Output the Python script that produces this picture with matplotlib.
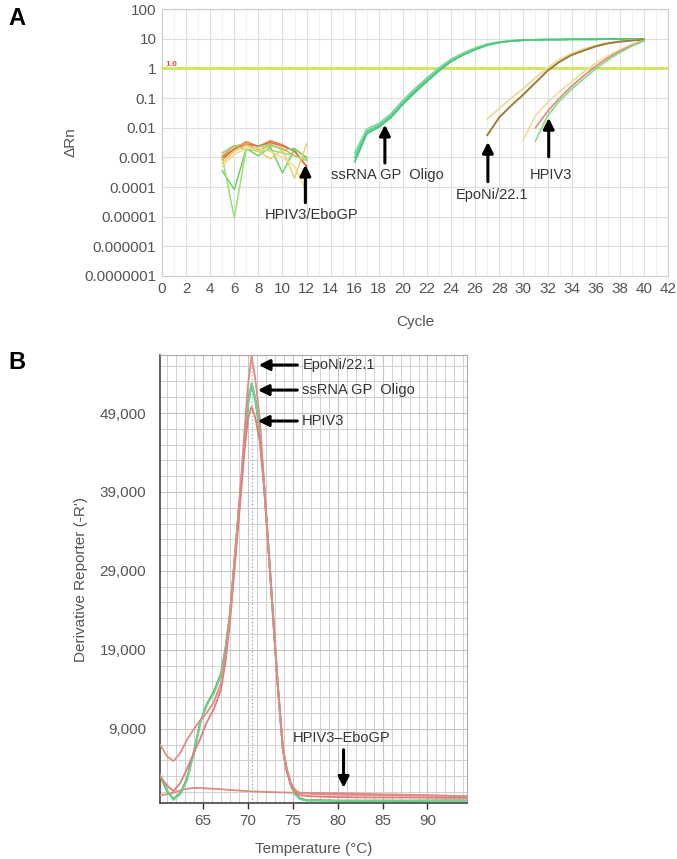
import matplotlib
matplotlib.use("Agg")
import matplotlib.pyplot as plt
import numpy as np

plt.rcParams['font.family'] = ['Liberation Sans', 'DejaVu Sans']

# ---------------- Panel A data (amplification, log10 of dRn) ----------------
noise_cycles = [5, 6, 7, 8, 9, 10, 11, 12]
noise_a = [-3.08, -2.72, -2.47, -2.64, -2.44, -2.58, -2.80, -3.31]
noise_b = [-3.00, -2.72, -2.55, -2.62, -2.50, -2.62, -2.78, -3.30]
noise_c = [-2.95, -2.62, -2.55, -2.75, -2.60, -2.70, -2.95, -3.10]
noise_d = [-2.85, -2.60, -2.75, -2.65, -2.55, -2.75, -2.70, -3.05]
noise_e = [-3.45, -4.09, -2.70, -2.95, -2.65, -3.53, -2.72, -3.00]
noise_f = [-3.00, -5.04, -2.70, -2.80, -2.75, -2.85, -2.95, -3.10]
noise_g = [-3.20, -2.80, -2.60, -2.80, -3.05, -2.75, -3.70, -2.55]
noise_h = [-3.30, -2.90, -2.70, -2.70, -2.80, -3.00, -3.30, -4.15]

ss_cycles = list(range(16, 41))
ss_rep1 = [-3.00, -2.13, -1.92, -1.60, -1.15, -0.75, -0.38, -0.03, 0.27, 0.48, 0.66, 0.80,
           0.88, 0.93, 0.95, 0.96, 0.97, 0.97, 0.98, 0.98, 0.98, 0.99, 0.99, 0.99, 0.99]
ss_rep2 = [-2.85, -2.05, -1.86, -1.53, -1.08, -0.68, -0.32, 0.02, 0.31, 0.52, 0.69, 0.82,
           0.89, 0.93, 0.95, 0.96, 0.97, 0.97, 0.98, 0.98, 0.98, 0.99, 0.99, 0.99, 0.99]
ss_rep3 = [-3.15, -2.20, -1.98, -1.66, -1.21, -0.81, -0.44, -0.08, 0.23, 0.45, 0.63, 0.78,
           0.87, 0.92, 0.95, 0.96, 0.97, 0.97, 0.98, 0.98, 0.98, 0.99, 0.99, 0.99, 0.99]

epo_cycles = list(range(27, 41))
epo_brown = [-2.25, -1.65, -1.25, -0.88, -0.48, -0.08, 0.22, 0.45, 0.60, 0.74, 0.84, 0.90, 0.94, 0.96]
epo_yellow = [-1.70, -1.35, -1.00, -0.68, -0.32, 0.02, 0.30, 0.50, 0.65, 0.77, 0.86, 0.91, 0.95, 0.96]

hpiv_y_cycles = list(range(30, 41))
hpiv_yellow = [-2.40, -1.60, -1.15, -0.78, -0.45, -0.12, 0.17, 0.42, 0.62, 0.80, 0.94]
hpiv_cycles = list(range(31, 41))
hpiv_pink = [-2.00, -1.45, -1.00, -0.60, -0.25, 0.07, 0.35, 0.58, 0.78, 0.93]
hpiv_green = [-2.45, -1.60, -1.10, -0.70, -0.35, -0.02, 0.28, 0.53, 0.75, 0.92]

threshold = 1.0
a_xticks = list(range(0, 43, 2))
a_yticks = [100, 10, 1, 0.1, 0.01, 0.001, 0.0001, 0.00001, 0.000001, 0.0000001]
a_yticklabels = ['100', '10', '1', '0.1', '0.01', '0.001', '0.0001', '0.00001', '0.000001', '0.0000001']

# ---------------- Panel B data (melt curves) ----------------
temps = [60.2, 61, 61.7, 62.5, 63.2, 64, 64.7, 65.4, 66.2, 67, 67.5, 68, 68.6, 69.2, 69.6,
         70.0, 70.4, 70.8, 71.3, 71.8, 72.3, 72.8, 73.3, 73.6, 73.9, 74.3, 74.8, 75.3, 75.8,
         76.5, 78, 80, 84, 88, 92, 94.4]
eponi_melt = [7000, 5500, 4900, 6000, 7600, 9000, 10100, 11000, 12400, 14800, 18500, 23200,
              31700, 40100, 46500, 52500, 56200, 53500, 48500, 40100, 31700, 23300, 14800,
              10500, 6340, 4000, 2100, 1200, 900, 800, 700, 650, 600, 550, 500, 450]
hpiv3_melt = [3000, 1800, 1100, 2200, 3900, 6000, 7800, 9800, 11500, 14000, 17500, 22500,
              30500, 38500, 44000, 48300, 49800, 48500, 45500, 39500, 31500, 23000, 14600,
              10300, 6200, 3700, 1800, 900, 600, 500, 400, 350, 300, 300, 250, 250]
ssrna_melt = [3200, 1200, 0, 800, 2500, 6000, 9800, 12000, 13500, 15800, 19000, 23500,
              31500, 39500, 45000, 50000, 52800, 51000, 47000, 39800, 31500, 23200, 14800,
              10500, 6300, 3800, 1700, 600, 100, -100, -100, -150, -150, -150, -100, -100]
olive_melt = [3000, 1100, 100, 900, 2700, 6200, 9900, 12100, 13700, 16000, 19200, 23700,
              31600, 39600, 45200, 50200, 52600, 50800, 46800, 39900, 31700, 23400, 15000,
              10700, 6500, 4000, 1900, 700, 200, -50, -50, -100, -100, -100, -80, -80]
neg_temps = [60.2, 61, 61.7, 62.5, 63.2, 64, 64.7, 65.4, 66.2, 67, 68, 70, 72, 75, 80, 85, 90, 94.4]
neg_melt = [600, 700, 900, 1200, 1400, 1500, 1500, 1450, 1400, 1350, 1250, 1100, 1000, 900,
            850, 700, 600, 450]
tm_line = 70.5
b_xticks = [65, 70, 75, 80, 85, 90]
b_yticks = [9000, 19000, 29000, 39000, 49000]

# ---------------- Figure ----------------
fig = plt.figure(figsize=(6.77, 8.59), dpi=100)
fig.patch.set_facecolor('white')
tick_col = '#555555'

# ===== Panel A =====
axA = fig.add_axes([0.2393, 0.6787, 0.9867 - 0.2393, 0.9895 - 0.6787])
axA.set_yscale('log')
axA.set_xlim(0, 42)
axA.set_ylim(1e-7, 100)
axA.set_xticks(a_xticks)
axA.set_xticks(range(0, 43, 1), minor=True)
axA.set_yticks(a_yticks)
axA.set_yticklabels(a_yticklabels)
axA.tick_params(axis='both', which='both', length=0, labelsize=11, colors=tick_col, pad=4)
axA.grid(True, which='major', color='#dedede', lw=0.8)
axA.grid(True, which='minor', color='#efefef', lw=0.6)
axA.set_axisbelow(True)
for s in axA.spines.values():
    s.set_color('#cccccc')
    s.set_linewidth(0.8)

axA.axhline(threshold, color='#cde65a', lw=2.0, zorder=3)
axA.text(0.3, 1.0, '1.0', color='#d94a4a', fontsize=6, fontweight='bold', va='bottom', ha='left')

noise_sets = [(noise_a, '#e8823c'), (noise_b, '#e06848'), (noise_c, '#f0a050'),
              (noise_d, '#8ed86a'), (noise_e, '#72d060'), (noise_f, '#98e078'),
              (noise_g, '#e6d070'), (noise_h, '#f0dc8a')]
for vals, c in noise_sets:
    axA.plot(noise_cycles, 10 ** np.array(vals), color=c, lw=1.1, zorder=4)

for vals, c in [(ss_rep1, '#5ccf8c'), (ss_rep2, '#7adba0'), (ss_rep3, '#4fc47e')]:
    axA.plot(ss_cycles, 10 ** np.array(vals), color=c, lw=1.3, zorder=4)

axA.plot(epo_cycles, 10 ** np.array(epo_yellow), color='#eadb96', lw=1.3, zorder=4)
axA.plot(epo_cycles, 10 ** np.array(epo_brown), color='#9c7c3c', lw=1.4, zorder=4)
axA.plot(hpiv_y_cycles, 10 ** np.array(hpiv_yellow), color='#f0dc98', lw=1.2, zorder=4)
axA.plot(hpiv_cycles, 10 ** np.array(hpiv_pink), color='#e08888', lw=1.2, zorder=4)
axA.plot(hpiv_cycles, 10 ** np.array(hpiv_green), color='#86dc86', lw=1.2, zorder=4)

arrow_kw = dict(arrowstyle='-|>', lw=2.2, color='black', mutation_scale=16, shrinkA=0, shrinkB=0)
label_kw = dict(fontsize=10.5, color='#333333')

axA.annotate('', xy=(11.9, 10 ** -3.25), xytext=(11.9, 10 ** -4.53), arrowprops=arrow_kw, zorder=6)
axA.text(12.45, 10 ** -4.94, 'HPIV3/EboGP', ha='center', va='center', **label_kw)
axA.annotate('', xy=(18.5, 10 ** -1.9), xytext=(18.5, 10 ** -3.19), arrowprops=arrow_kw, zorder=6)
axA.text(18.7, 10 ** -3.59, 'ssRNA GP  Oligo', ha='center', va='center', **label_kw)
axA.annotate('', xy=(27.05, 10 ** -2.48), xytext=(27.05, 10 ** -3.82), arrowprops=arrow_kw, zorder=6)
axA.text(27.4, 10 ** -4.26, 'EpoNi/22.1', ha='center', va='center', **label_kw)
axA.annotate('', xy=(32.1, 10 ** -1.67), xytext=(32.1, 10 ** -2.98), arrowprops=arrow_kw, zorder=6)
axA.text(32.3, 10 ** -3.59, 'HPIV3', ha='center', va='center', **label_kw)

axA.set_ylabel('ΔRn', fontsize=11, color=tick_col, labelpad=5)
axA.set_xlabel('Cycle', fontsize=11, color=tick_col, labelpad=14)

# ===== Panel B =====
axB = fig.add_axes([0.2363, 0.0652, 0.6898 - 0.2363, 0.5867 - 0.0652])
axB.set_xlim(60.2, 94.4)
axB.set_ylim(-400, 56350)
axB.set_xticks(b_xticks)
axB.set_yticks(b_yticks)
axB.set_yticklabels([f'{v:,}' for v in b_yticks])
axB.set_xticks(np.arange(61, 95, 1), minor=True)
axB.set_yticks(np.arange(1000, 56001, 2000), minor=True)
axB.tick_params(axis='x', which='major', length=4, width=1, color='#333333', labelsize=11,
                labelcolor=tick_col, pad=4)
axB.tick_params(axis='y', which='major', length=0, labelsize=11, labelcolor=tick_col, pad=10)
axB.tick_params(axis='both', which='minor', length=0)
axB.grid(True, which='minor', color='#d0d0d0', lw=0.7)
axB.grid(True, which='major', color='#c4c4c4', lw=0.8)
axB.set_axisbelow(True)
axB.spines['left'].set_color('#444444')
axB.spines['bottom'].set_color('#444444')
axB.spines['left'].set_linewidth(1.2)
axB.spines['bottom'].set_linewidth(1.2)
axB.spines['top'].set_color('#aaaaaa')
axB.spines['right'].set_color('#aaaaaa')

axB.axvline(tm_line, color='#8fb3d9', lw=1.0, ls=':', zorder=2)
axB.plot(neg_temps, neg_melt, color='#df8a80', lw=1.3, zorder=3)
axB.plot(temps, olive_melt, color='#8d8a3a', lw=1.4, zorder=3)
axB.plot(temps, ssrna_melt, color='#62d694', lw=1.4, zorder=4)
axB.plot(temps, hpiv3_melt, color='#de7e7a', lw=1.3, zorder=4)
axB.plot(temps, eponi_melt, color='#e28a84', lw=1.3, zorder=4)

arrow_kw_b = dict(arrowstyle='-|>', lw=2.2, color='black', mutation_scale=16, shrinkA=0, shrinkB=0)
axB.annotate('', xy=(71.2, 55080), xytext=(75.5, 55080), arrowprops=arrow_kw_b, zorder=6)
axB.text(76.1, 55080, 'EpoNi/22.1', ha='left', va='center', **label_kw)
axB.annotate('', xy=(71.1, 51910), xytext=(75.5, 51910), arrowprops=arrow_kw_b, zorder=6)
axB.text(76.0, 51910, 'ssRNA GP  Oligo', ha='left', va='center', **label_kw)
axB.annotate('', xy=(71.1, 47990), xytext=(75.5, 47990), arrowprops=arrow_kw_b, zorder=6)
axB.text(76.0, 47990, 'HPIV3', ha='left', va='center', **label_kw)
axB.annotate('', xy=(80.65, 1530), xytext=(80.65, 6340), arrowprops=arrow_kw_b, zorder=6)
axB.text(80.4, 7860, 'HPIV3–EboGP', ha='center', va='center', **label_kw)

axB.set_ylabel("Derivative Reporter (-R')", fontsize=11, color=tick_col, labelpad=8)
axB.set_xlabel('Temperature (°C)', fontsize=11, color=tick_col, labelpad=10)

fig.text(0.012, 0.978, 'A', fontsize=17, fontweight='bold', ha='left', va='center')
fig.text(0.012, 0.578, 'B', fontsize=17, fontweight='bold', ha='left', va='center')

fig.savefig('out.png', dpi=100, facecolor='white')
